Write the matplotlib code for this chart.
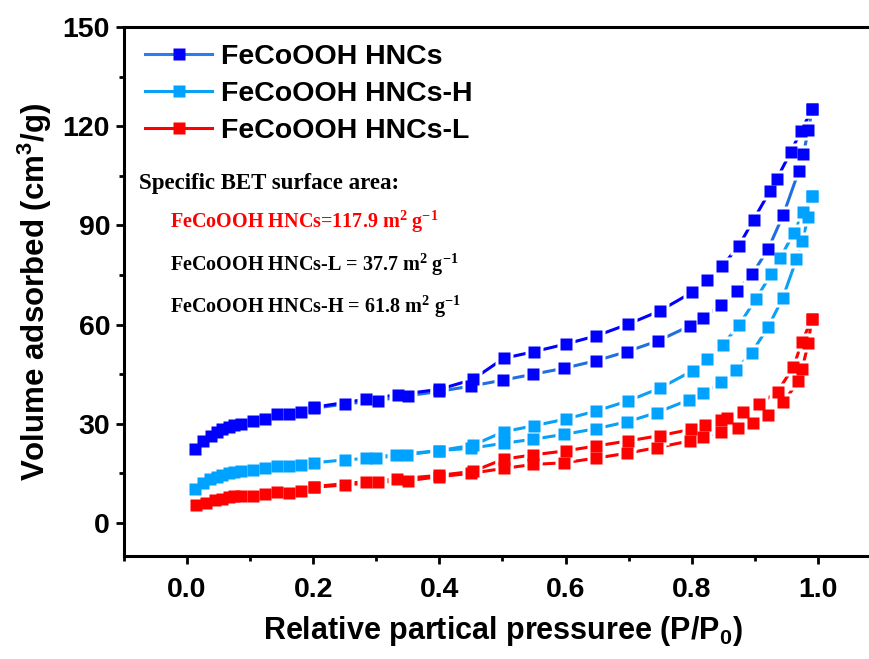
import matplotlib
matplotlib.use("Agg")
import matplotlib.pyplot as plt
from matplotlib.lines import Line2D
from matplotlib.ticker import MultipleLocator

plt.rcParams["font.family"] = ["Liberation Sans", "DejaVu Sans"]
plt.rcParams["font.weight"] = "bold"
plt.rcParams["mathtext.fontset"] = "custom"
plt.rcParams["mathtext.rm"] = "Liberation Serif:bold"
plt.rcParams["mathtext.bf"] = "Liberation Serif:bold"
plt.rcParams["mathtext.sf"] = "Liberation Sans:bold"

# N2 isotherms: adsorption (ads) and desorption (des) branches
ads_p_hncs = [0.012, 0.026, 0.038, 0.047, 0.056, 0.066, 0.075, 0.085, 0.104, 0.123, 0.143, 0.162,
              0.181, 0.202, 0.251, 0.302, 0.351, 0.400, 0.450, 0.501, 0.549, 0.598, 0.649, 0.697,
              0.747, 0.797, 0.818, 0.847, 0.872, 0.896, 0.921, 0.945, 0.970, 0.977, 0.985, 0.991]
ads_v_hncs = [22.3, 24.9, 26.4, 27.4, 28.3, 29.0, 29.5, 30.0, 30.7, 31.5, 32.9, 32.9,
              33.7, 34.7, 36.0, 37.0, 38.5, 39.8, 41.4, 43.2, 45.0, 46.8, 49.1, 51.8,
              55.1, 59.6, 62.1, 65.9, 70.2, 75.3, 82.8, 93.1, 106.6, 111.7, 118.8, 125.1]
des_p_hncs = [0.991, 0.973, 0.957, 0.935, 0.924, 0.898, 0.875, 0.848, 0.824, 0.801, 0.749,
              0.699, 0.649, 0.600, 0.550, 0.502, 0.453, 0.400, 0.334, 0.283, 0.202]
des_v_hncs = [125.1, 118.5, 112.2, 104.1, 100.4, 91.7, 83.9, 77.6, 73.4, 69.8, 64.1,
              60.1, 56.6, 54.1, 51.8, 49.8, 43.4, 40.4, 38.8, 37.4, 35.0]

ads_p_h = [0.012, 0.025, 0.037, 0.047, 0.056, 0.066, 0.075, 0.085, 0.104, 0.123, 0.143, 0.162,
           0.181, 0.202, 0.251, 0.300, 0.349, 0.400, 0.450, 0.502, 0.548, 0.598, 0.648, 0.698,
           0.745, 0.795, 0.818, 0.847, 0.870, 0.895, 0.921, 0.944, 0.966, 0.975, 0.985, 0.990]
ads_v_h = [10.2, 12.2, 13.2, 14.0, 14.5, 15.0, 15.4, 15.8, 16.0, 16.5, 17.2, 17.2,
           17.6, 18.2, 19.1, 19.7, 20.6, 21.9, 22.6, 24.1, 25.3, 26.8, 28.5, 30.6,
           33.4, 37.2, 39.2, 42.5, 46.3, 51.5, 59.2, 67.9, 79.7, 85.4, 92.6, 99.0]
des_p_h = [0.990, 0.977, 0.962, 0.940, 0.926, 0.902, 0.875, 0.849, 0.825, 0.802, 0.750,
           0.699, 0.649, 0.600, 0.550, 0.502, 0.453, 0.400, 0.332, 0.283]
des_v_h = [99.0, 94.0, 87.8, 80.0, 75.3, 67.8, 59.9, 53.8, 49.6, 46.1, 40.8,
           36.9, 33.9, 31.4, 29.4, 27.6, 23.5, 21.9, 20.6, 19.7]

ads_p_l = [0.014, 0.030, 0.044, 0.055, 0.066, 0.075, 0.085, 0.104, 0.123, 0.143, 0.162, 0.181,
           0.202, 0.251, 0.302, 0.351, 0.400, 0.450, 0.502, 0.549, 0.598, 0.648, 0.698, 0.745,
           0.797, 0.818, 0.847, 0.873, 0.897, 0.921, 0.945, 0.969, 0.975, 0.985, 0.990]
ads_v_l = [5.4, 6.1, 7.0, 7.3, 7.7, 8.0, 8.2, 8.2, 8.8, 9.5, 9.2, 9.8,
           10.8, 11.5, 12.3, 12.8, 14.0, 15.0, 16.5, 17.7, 18.2, 19.6, 21.1, 22.8,
           24.8, 25.9, 27.6, 28.6, 30.1, 32.5, 36.5, 42.8, 46.7, 54.4, 61.6]
des_p_l = [0.990, 0.975, 0.961, 0.936, 0.907, 0.881, 0.856, 0.847, 0.821, 0.799, 0.749,
           0.699, 0.649, 0.600, 0.549, 0.502, 0.453, 0.400, 0.333, 0.283, 0.202]
des_v_l = [61.6, 54.8, 47.1, 39.7, 36.0, 33.6, 31.7, 31.1, 29.5, 28.3, 26.4,
           24.8, 23.3, 21.8, 20.6, 19.3, 15.6, 14.4, 13.3, 12.5, 11.0]

series_names = ["FeCoOOH HNCs", "FeCoOOH HNCs-H", "FeCoOOH HNCs-L"]

x_ticks = [0.0, 0.2, 0.4, 0.6, 0.8, 1.0]
y_ticks = [0, 30, 60, 90, 120, 150]

BLUE = "#0000ff"
BLUE_LINE = "#1f6fe0"
BLUE_LEG = "#2a7cf5"
SKY = "#00a2ff"
SKY_LINE = "#0aa0f5"
RED = "#ff0000"

fig = plt.figure(figsize=(8.7, 6.59), dpi=100)
ax = fig.add_axes([0.1425, 0.1563, 1.0126 - 0.1425, 0.959 - 0.1563])

MS = 9.0
HALO = 13.0
LW = 2.2


def branch(p, v, line_color, marker_color):
    ax.plot(p, v, "-", color=line_color, lw=LW, zorder=2, solid_capstyle="butt")
    ax.plot(p, v, "s", ms=HALO, mfc="white", mec="none", zorder=3)
    ax.plot(p, v, "s", ms=MS, mfc=marker_color, mec="none", zorder=4)


branch(ads_p_l, ads_v_l, RED, RED)
branch(des_p_l, des_v_l, RED, RED)
branch(ads_p_h, ads_v_h, SKY_LINE, SKY)
branch(des_p_h, des_v_h, SKY_LINE, SKY)
branch(ads_p_hncs, ads_v_hncs, BLUE_LINE, BLUE)
branch(des_p_hncs, des_v_hncs, BLUE, BLUE)

ax.set_xlim(-0.1, 1.1)
ax.set_ylim(-10, 150)
ax.set_xticks(x_ticks)
ax.set_xticklabels([f"{t:.1f}" for t in x_ticks])
ax.set_yticks(y_ticks)
ax.xaxis.set_minor_locator(MultipleLocator(0.1))
ax.yaxis.set_minor_locator(MultipleLocator(15))
ax.tick_params(which="major", direction="out", length=6, width=2, labelsize=20.5, pad=4)
ax.tick_params(which="minor", direction="out", length=3.5, width=2)
ax.tick_params(axis="x", which="major", pad=9)
for lab in ax.get_xticklabels() + ax.get_yticklabels():
    lab.set_fontweight("bold")
for s in ax.spines.values():
    s.set_linewidth(2.2)

ax.set_ylabel(r"Volume adsorbed (cm$\mathsf{^{3}}$/g)", fontsize=22.5, fontweight="bold", labelpad=6)
ax.set_xlabel(r"Relative partical pressuree (P/P$\mathsf{_{0}}$)", fontsize=22, fontweight="bold", labelpad=8)

handles = [
    Line2D([], [], color=BLUE_LEG, lw=LW, marker="s", ms=MS, mfc=BLUE, mec="none"),
    Line2D([], [], color=SKY_LINE, lw=LW, marker="s", ms=MS, mfc=SKY, mec="none"),
    Line2D([], [], color=RED, lw=LW, marker="s", ms=MS, mfc=RED, mec="none"),
]
leg = ax.legend(handles, series_names, loc="upper left", bbox_to_anchor=(0.028, 0.968),
                frameon=False, borderpad=0, borderaxespad=0, handlelength=2.35,
                handletextpad=0.3, labelspacing=0.38,
                prop={"family": "Liberation Sans", "weight": "bold", "size": 20.5})

W, H = 870.0, 659.0
fig.text(139 / W, 1 - 183 / H, "Specific BET surface area:", family="Liberation Serif",
         weight="bold", fontsize=16.5, va="center", ha="left")
fig.text(170 / W, 1 - 222 / H, r"FeCoOOH HNCs=117.9 m$^{\mathbf{2}}$ g$^{\mathbf{-1}}$",
         family="Liberation Serif", weight="bold", fontsize=14.5, color=RED, va="center", ha="left")
fig.text(170 / W, 1 - 265 / H, r"FeCoOOH HNCs-L = 37.7 m$^{\mathbf{2}}$ g$^{\mathbf{-1}}$",
         family="Liberation Serif", weight="bold", fontsize=14.5, va="center", ha="left")
fig.text(170 / W, 1 - 307 / H, r"FeCoOOH HNCs-H = 61.8 m$^{\mathbf{2}}$ g$^{\mathbf{-1}}$",
         family="Liberation Serif", weight="bold", fontsize=14.5, va="center", ha="left")

fig.savefig("out.png", dpi=100)
